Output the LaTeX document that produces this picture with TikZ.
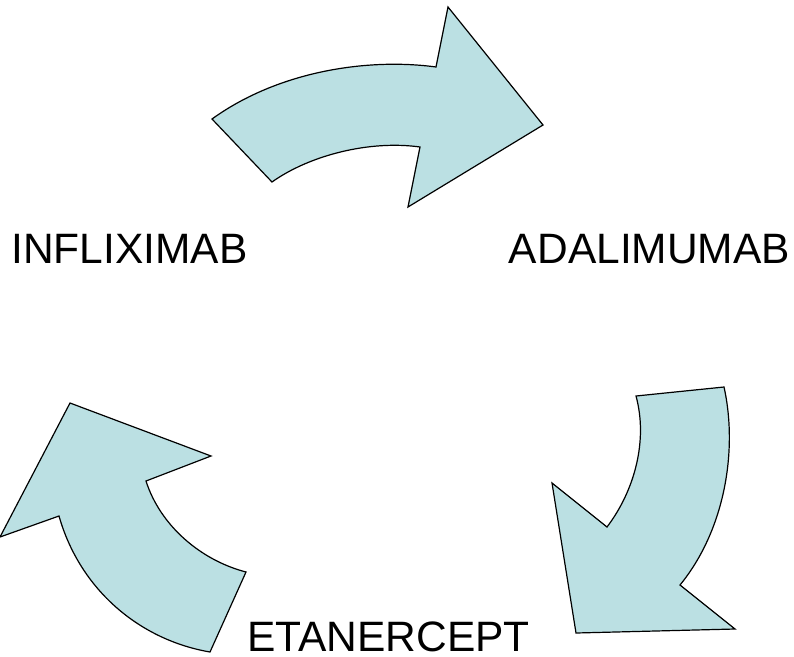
\documentclass[tikz,border=0pt]{standalone}
\usepackage{fontspec}
\setmainfont{Liberation Sans}
\definecolor{arrowfill}{RGB}{187,224,227}
\begin{document}
\begin{tikzpicture}[x=1pt,y=-1pt,
  bigarrow/.style={fill=arrowfill,draw=black,line width=1.2pt,line join=miter},
  drug/.style={inner sep=0pt,anchor=base,font=\fontsize{42.5}{48}\selectfont}]
\useasboundingbox (0,0) rectangle (794,656);
% top arrow
\draw[bigarrow] (212,119) .. controls (280,70) and (370,58) .. (436,67)
  -- (448,7) -- (543,125) -- (408,207) -- (420,147)
  .. controls (370,140) and (310,155) .. (272,182) -- cycle;
% right arrow
\draw[bigarrow] (636,396) -- (724,387)
  .. controls (738,450) and (725,530) .. (680,585)
  -- (735,629) -- (576,633) -- (552,483) -- (607,527)
  .. controls (635,490) and (648,440) .. (636,396) -- cycle;
% left arrow
\draw[bigarrow] (70,403) -- (211,456) -- (146,481)
  .. controls (160,525) and (200,560) .. (246,572)
  -- (210,652)
  .. controls (140,640) and (80,590) .. (59,516)
  -- (0,537) -- cycle;
\node[drug] (inf) at (129.5,263) {INFLIXIMAB};
\node[drug] (ada) at (649.5,263) {ADALIMUMAB};
\node[drug] (eta) at (388.5,651) {ETANERCEPT};
\end{tikzpicture}
\end{document}
